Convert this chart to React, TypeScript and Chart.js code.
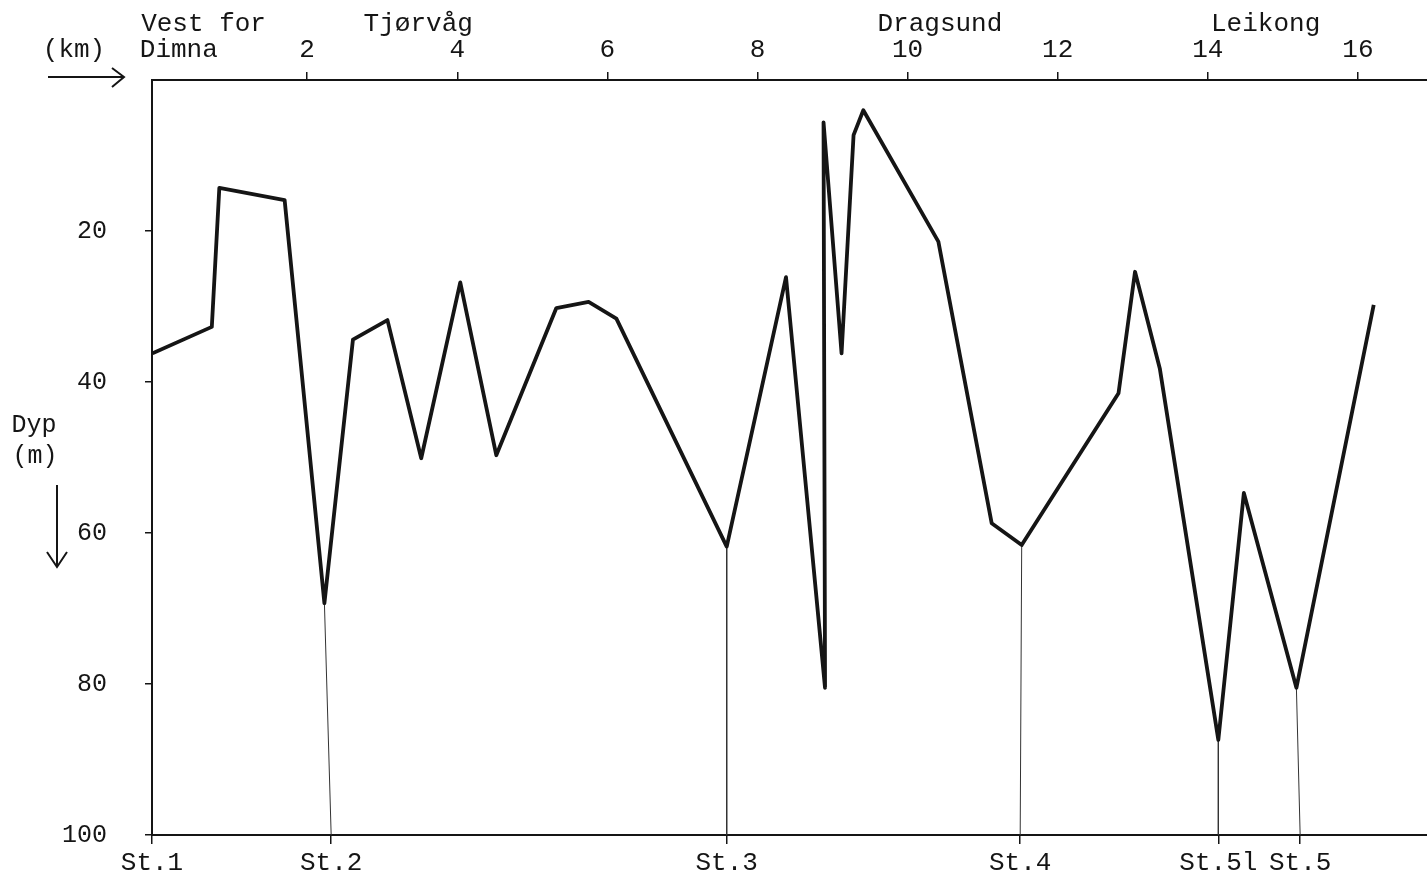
import React, { useEffect, useRef } from "react";
import { Chart, registerables } from "chart.js";

Chart.register(...registerables);

// Depth profile (distance in km, depth in m)
const profileKm = [-0.06, 0.73, 0.83, 1.70, 2.23, 2.61, 3.07, 3.52, 4.04, 4.52, 5.32, 5.75, 6.12, 7.59, 8.38, 8.90, 8.88, 9.12, 9.28, 9.41, 10.41, 11.12, 11.52, 12.81, 13.03, 13.36, 14.14, 14.48, 15.18, 16.21];
const profileDepth = [36.2, 32.7, 14.3, 15.9, 69.3, 34.4, 31.8, 50.1, 26.8, 49.7, 30.2, 29.4, 31.6, 61.8, 26.1, 80.5, 5.6, 36.2, 7.3, 4.0, 21.4, 58.7, 61.6, 41.5, 25.4, 38.2, 87.4, 54.7, 80.5, 29.8];

// Stations
const stationNames = ["St.1", "St.2", "St.3", "St.4", "St.5l", "St.5"];
const stationKm = [-0.067, 2.32, 7.59, 11.50, 14.14, 15.23];
const stationTopKm = [-0.067, 2.23, 7.59, 11.52, 14.14, 15.18];
const stationTopDepth = [36.2, 69.3, 61.8, 61.6, 87.4, 80.5];

// Axis ticks
const kmTicks = [2, 4, 6, 8, 10, 12, 14, 16];
const depthTicks = [20, 40, 60, 80, 100];
const kmMin = -0.067;
const kmMax = 16.92;

// Place names along the top
const placeNames = ["Vest for", "Tjørvåg", "Dragsund", "Leikong"];
const placeKm = [0.62, 3.48, 10.43, 14.77];
const startName = "Dimna";
const startKm = 0.29;

const FONT = '"Liberation Mono", "DejaVu Sans Mono", monospace';
const INK = "#151515";

const annotPlugin = {
  id: "annot",
  afterDraw(chart: any) {
    const ctx = chart.ctx;
    const x2 = chart.scales.x2;
    const a = chart.chartArea;
    ctx.save();
    ctx.fillStyle = INK;
    ctx.strokeStyle = INK;
    ctx.font = "26px " + FONT;
    ctx.textBaseline = "middle";
    ctx.textAlign = "center";
    placeNames.forEach((n, i) => ctx.fillText(n, x2.getPixelForValue(placeKm[i]), 24));
    ctx.fillText(startName, x2.getPixelForValue(startKm), 50);
    // (km) with arrow
    ctx.fillText("(km)", a.left - 78, 50);
    ctx.lineWidth = 2;
    ctx.beginPath();
    ctx.moveTo(a.left - 104, a.top - 3);
    ctx.lineTo(a.left - 28, a.top - 3);
    ctx.moveTo(a.left - 40, a.top - 12);
    ctx.lineTo(a.left - 28, a.top - 3);
    ctx.lineTo(a.left - 40, a.top + 7);
    ctx.stroke();
    // Dyp (m) with arrow
    ctx.font = "25px " + FONT;
    ctx.fillText("Dyp", a.left - 118, 425);
    ctx.fillText("(m)", a.left - 117, 456);
    ctx.beginPath();
    ctx.moveTo(a.left - 95, 485);
    ctx.lineTo(a.left - 95, 567);
    ctx.moveTo(a.left - 105, 552);
    ctx.lineTo(a.left - 95, 567);
    ctx.lineTo(a.left - 85, 552);
    ctx.stroke();
    ctx.restore();
  },
};

export default function App() {
  const ref = useRef<HTMLCanvasElement | null>(null);

  useEffect(() => {
    if (!ref.current) return;
    const profile = profileKm.map((x, i) => ({ x, y: profileDepth[i] }));
    const stationSets = stationNames.slice(1).map((name, j) => {
      const i = j + 1;
      return {
        label: name,
        data: [
          { x: stationTopKm[i], y: stationTopDepth[i] },
          { x: stationKm[i], y: 100 },
        ],
        borderColor: "#333",
        borderWidth: 1,
        pointRadius: 0,
        xAxisID: "x",
        yAxisID: "y",
      };
    });

    const chart = new Chart(ref.current, {
      type: "line",
      data: {
        datasets: [
          {
            label: "Dyp",
            data: profile,
            borderColor: INK,
            borderWidth: 3.8,
            borderJoinStyle: "round",
            pointRadius: 0,
            tension: 0,
            xAxisID: "x",
            yAxisID: "y",
          },
          ...stationSets,
        ] as any,
      },
      options: {
        animation: false,
        responsive: false,
        devicePixelRatio: 1,
        layout: { padding: 0 },
        plugins: { legend: { display: false }, tooltip: { enabled: false } },
        scales: {
          x: {
            type: "linear",
            position: "bottom",
            min: kmMin,
            max: kmMax,
            afterBuildTicks: (s: any) => {
              s.ticks = stationKm.map((v) => ({ value: v }));
            },
            afterFit: (s: any) => {
              s.height = 46;
            },
            ticks: {
              autoSkip: false,
              maxRotation: 0,
              padding: 4,
              color: INK,
              font: { family: FONT, size: 26 },
              callback: (_v: any, i: number) => stationNames[i],
            },
            grid: { drawOnChartArea: false, drawTicks: true, tickLength: 9, color: INK, lineWidth: 1.5 },
            border: { display: true, color: INK, width: 2 },
          },
          x2: {
            type: "linear",
            position: "top",
            min: kmMin,
            max: kmMax,
            afterBuildTicks: (s: any) => {
              s.ticks = kmTicks.map((v) => ({ value: v }));
            },
            afterFit: (s: any) => {
              s.height = 80;
            },
            ticks: {
              autoSkip: false,
              maxRotation: 0,
              padding: 6,
              color: INK,
              font: { family: FONT, size: 26 },
              callback: (v: any) => String(v),
            },
            grid: { drawOnChartArea: false, drawTicks: true, tickLength: 8, color: INK, lineWidth: 1.5 },
            border: { display: true, color: INK, width: 2 },
          },
          y: {
            type: "linear",
            position: "left",
            reverse: true,
            min: 0,
            max: 100,
            afterBuildTicks: (s: any) => {
              s.ticks = depthTicks.map((v) => ({ value: v }));
            },
            afterFit: (s: any) => {
              s.width = 152;
              s.paddingTop = 0;
              s.paddingBottom = 0;
            },
            ticks: {
              padding: 38,
              color: INK,
              font: { family: FONT, size: 25 },
              callback: (v: any) => String(v),
            },
            grid: { drawOnChartArea: false, drawTicks: true, tickLength: 7, color: INK, lineWidth: 1.5 },
            border: { display: true, color: INK, width: 2 },
          },
        },
      } as any,
      plugins: [annotPlugin],
    });
    return () => chart.destroy();
  }, []);

  return (
    <div style={{ position: "absolute", left: 0, top: 0, width: 1427, height: 881, background: "#fff" }}>
      <canvas ref={ref} width={1427} height={881} style={{ display: "block", width: 1427, height: 881 }} />
    </div>
  );
}
